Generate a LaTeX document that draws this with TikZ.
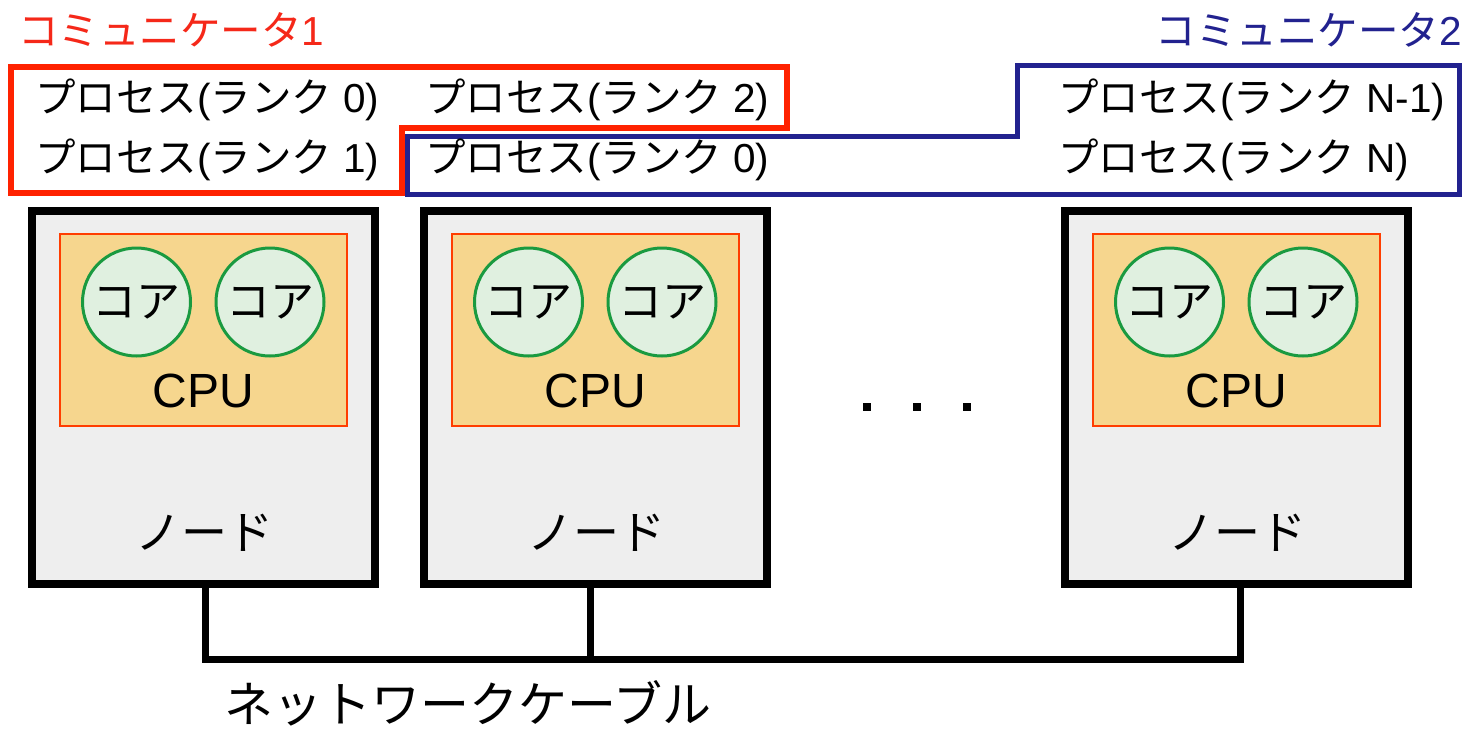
\documentclass[tikz,border=0pt]{standalone}
\usepackage{fontspec}
\setmainfont{Liberation Sans}
\newfontfamily\jpfont{Noto Sans CJK JP}
\newcommand{\jpn}[1]{{\jpfont #1}}
\definecolor{commred}{RGB}{255,34,0}
\definecolor{titlered}{RGB}{245,40,25}
\definecolor{commblue}{RGB}{34,34,143}
\definecolor{nodegray}{RGB}{238,238,238}
\definecolor{cpufill}{RGB}{246,214,142}
\definecolor{cpuline}{RGB}{255,61,0}
\definecolor{corefill}{RGB}{224,240,224}
\definecolor{coreline}{RGB}{26,154,64}
\tikzset{
  nodebox/.style={draw=black, line width=8pt, fill=nodegray, minimum width=343pt, minimum height=373pt, inner sep=0pt, outer sep=0pt},
  cpubox/.style={draw=cpuline, line width=2.5pt, fill=cpufill, minimum width=287pt, minimum height=192pt, inner sep=0pt},
  corecirc/.style={circle, draw=coreline, line width=3pt, fill=corefill, minimum size=108pt, inner sep=0pt, font=\jpfont\fontsize{44}{44}\selectfont},
  proc/.style={anchor=west, inner sep=0pt, font=\fontsize{40.5}{40.5}\selectfont},
  cpulabel/.style={inner sep=0pt, font=\fontsize{48}{48}\selectfont},
  nodelabel/.style={inner sep=0pt, font=\jpfont\fontsize{46}{46}\selectfont},
  commtitle/.style={anchor=west, inner sep=0pt, font=\fontsize{40.5}{40.5}\selectfont},
  cable/.style={line width=7pt, line join=miter},
  dotmark/.style={fill=black, minimum size=8pt, inner sep=0pt}
}
\begin{document}
\begin{tikzpicture}[x=1pt, y=-1pt]
\useasboundingbox (0,0) rectangle (1464,729);
% communicator titles
\node[commtitle, text=titlered] (t1) at (18,30) {\jpn{コミュニケータ}1};
\node[commtitle, text=commblue, anchor=east] (t2) at (1462,30) {\jpn{コミュニケータ}2};
% communicator outlines
\draw[commblue, line width=5pt, line join=miter] (407,136) -- (1017,136) -- (1017,65) -- (1459,65) -- (1459,194) -- (407,194) -- cycle;
\draw[commred, line width=6pt, line join=miter] (11,67) -- (787,67) -- (787,128) -- (402,128) -- (402,193) -- (11,193) -- cycle;
% process labels
\node[proc] (p10) at (35,100) {\jpn{プロセス}(\jpn{ランク} 0)};
\node[proc] (p11) at (35,160) {\jpn{プロセス}(\jpn{ランク} 1)};
\node[proc] (p12) at (425,100) {\jpn{プロセス}(\jpn{ランク} 2)};
\node[proc] (p20) at (425,160) {\jpn{プロセス}(\jpn{ランク} 0)};
\node[proc] (p2a) at (1058,100) {\jpn{プロセス}(\jpn{ランク} N-1)};
\node[proc] (p2b) at (1058,160) {\jpn{プロセス}(\jpn{ランク} N)};
% compute nodes
\foreach \i/\xl in {1/32, 2/424, 3/1065} {
  \node[nodebox] (n\i) at (\xl+171.5, 397.5) {};
  \node[cpubox] (c\i) at (\xl+171.5, 330) {};
  \node[corecirc] (ka\i) at (\xl+104.5, 302) {コア};
  \node[corecirc] (kb\i) at (\xl+238, 302) {コア};
  \node[cpulabel] (cl\i) at (\xl+171.5, 391) {CPU};
  \node[nodelabel] (nl\i) at (\xl+172, 533) {ノード};
}
% dots
\node[dotmark] (d1) at (867,407) {};
\node[dotmark] (d2) at (917,407) {};
\node[dotmark] (d3) at (967,407) {};
% network cable
\coordinate (bus) at (0,659);
\draw[cable] ([xshift=1.5pt]n1.south) -- ([xshift=1.5pt]n1.south |- bus) -| ([xshift=3.5pt]n3.south);
\draw[cable] ([xshift=-5.5pt]n2.south) -- ([xshift=-5.5pt]n2.south |- bus);
\node[inner sep=0pt, anchor=west, font=\jpfont\fontsize{49}{49}\selectfont] (cl) at (224,703) {ネットワークケーブル};
\end{tikzpicture}
\end{document}
